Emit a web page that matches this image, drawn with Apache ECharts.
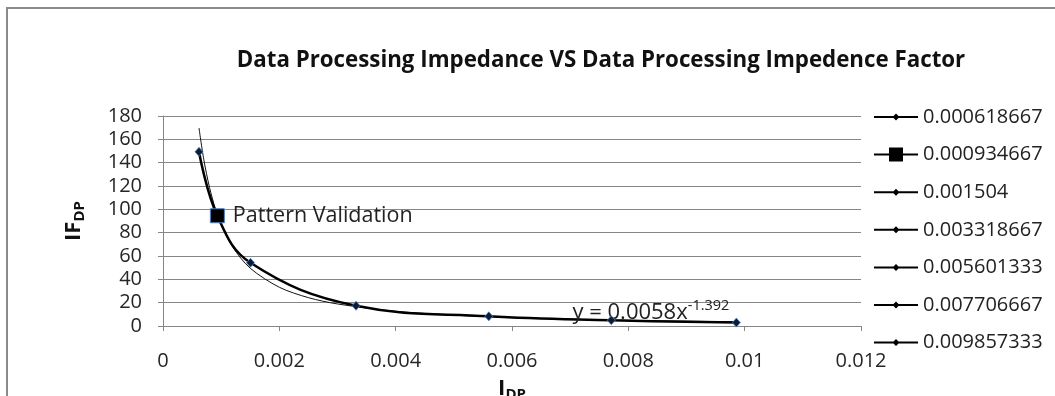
<!DOCTYPE html>
<html>
<head>
<meta charset="utf-8">
<script src="https://cdn.jsdelivr.net/npm/echarts@6/dist/echarts.min.js"></script>
<style>
html,body{margin:0;padding:0;background:#fff;}
#chart{width:1055px;height:396px;}
</style>
</head>
<body>
<div id="chart"></div>
<script>
// ---- data ----
const TITLE = 'Data Processing Impedance VS Data Processing Impedence Factor';
const POINT_LABELS = ['0.000618667','0.000934667','0.001504','0.003318667','0.005601333','0.007706667','0.009857333'];
const IDP = POINT_LABELS.map(Number);
const IFDP = [149.3, 94.5, 54.2, 17.4, 8.3, 4.9, 2.9];
const VALIDATION_INDEX = 1;
const VALIDATION_TEXT = 'Pattern Validation';
// power trendline
const TREND_X = [0.000619, 0.0007, 0.0008, 0.0009, 0.001, 0.0012, 0.0015, 0.002, 0.0025, 0.003, 0.004, 0.005, 0.006, 0.007, 0.008, 0.009, 0.00986];
const TREND_Y = [169.7, 143.0, 118.7, 100.7, 87.0, 67.5, 49.5, 33.2, 24.3, 18.9, 12.6, 9.3, 7.2, 5.8, 4.8, 4.1, 3.6];
const TREND_EQ_MAIN = 'y = 0.0058x';
const TREND_EQ_EXP = '-1.392';
const X_TICKS = ['0','0.002','0.004','0.006','0.008','0.01','0.012'];
const Y_TICKS = ['0','20','40','60','80','100','120','140','160','180'];

// ---- chart ----
const FONT = 'Open Sans';
const DIAMOND_ICON = 'path://M0,6H44V8H0Z M22,3.5L25.5,7L22,10.5L18.5,7Z';
const SQUARE_ICON = 'path://M0,6H44V8H0Z M15,0H29V14H15Z';

const chart = echarts.init(document.getElementById('chart'), null, {renderer: 'canvas'});

const pointSeries = POINT_LABELS.map((name, i) => {
  const isVal = i === VALIDATION_INDEX;
  return {
    name: name,
    type: 'line',
    data: [[IDP[i], IFDP[i]]],
    symbol: isVal ? 'rect' : 'diamond',
    symbolSize: isVal ? 14 : [8, 9],
    itemStyle: isVal
      ? {color: '#000', borderColor: '#4f81bd', borderWidth: 1}
      : {color: '#0f1a36', borderColor: '#4f81bd', borderWidth: 0.8},
    lineStyle: {color: '#000', width: 2},
    z: 5,
    label: isVal ? {
      show: true, position: 'right', distance: 8,
      formatter: VALIDATION_TEXT,
      fontFamily: FONT, fontSize: 21.5, color: '#222'
    } : {show: false},
    animation: false
  };
});

const option = {
  animation: false,
  backgroundColor: '#fff',
  graphic: [{
    type: 'rect', silent: true,
    shape: {x: 7, y: 8, width: 1100, height: 500},
    style: {fill: 'none', stroke: '#8a8a8a', lineWidth: 2}
  }],
  title: {
    text: TITLE,
    left: 596, top: 45, textAlign: 'center',
    textStyle: {fontFamily: 'Open Sans', fontWeight: 'bold', fontSize: 22.3, color: '#111'}
  },
  legend: {
    orient: 'vertical',
    left: 869, top: 101,
    itemWidth: 44, itemHeight: 14, itemGap: 15.6,
    selectedMode: false,
    textStyle: {fontFamily: FONT, fontSize: 20, color: '#222', lineHeight: 22},
    data: POINT_LABELS.map((n, i) => ({
      name: n,
      icon: i === VALIDATION_INDEX ? SQUARE_ICON : DIAMOND_ICON,
      itemStyle: {color: '#000', borderWidth: 0, borderColor: 'transparent'}
    }))
  },
  grid: {left: 163, right: 194, top: 116, bottom: 70, containLabel: false, outerBoundsMode: 'none'},
  xAxis: {
    type: 'value', min: 0, max: 0.012, interval: 0.002,
    name: '{a|I}{b|DP}', nameLocation: 'middle', nameGap: 49,
    nameTextStyle: {
      rich: {
        a: {fontFamily: FONT, fontWeight: 'bold', fontSize: 22, color: '#111'},
        b: {fontFamily: FONT, fontWeight: 'bold', fontSize: 15, color: '#111', verticalAlign: 'top', padding: [12, 0, 0, 0]}
      }
    },
    axisLine: {show: true, onZero: false, lineStyle: {color: '#868686', width: 1}},
    axisTick: {show: true, length: 5, inside: false, lineStyle: {color: '#868686'}},
    axisLabel: {
      margin: 25, fontFamily: FONT, fontSize: 20, color: '#262626',
      formatter: v => X_TICKS[Math.round(v / 0.002)]
    },
    splitLine: {show: false}
  },
  yAxis: {
    type: 'value', min: 0, max: 180, interval: 20,
    name: '{a|IF}{b|DP}', nameLocation: 'middle', nameGap: 76,
    nameTextStyle: {
      rich: {
        a: {fontFamily: FONT, fontWeight: 'bold', fontSize: 22, color: '#111'},
        b: {fontFamily: FONT, fontWeight: 'bold', fontSize: 15, color: '#111', verticalAlign: 'top', padding: [12, 0, 0, 0]}
      }
    },
    axisLine: {show: true, lineStyle: {color: '#868686', width: 1}},
    axisTick: {show: true, length: 5, lineStyle: {color: '#868686'}},
    axisLabel: {
      margin: 21, fontFamily: FONT, fontSize: 20, color: '#262626',
      formatter: v => Y_TICKS[Math.round(v / 20)]
    },
    splitLine: {show: true, lineStyle: {color: '#868686', width: 1}}
  },
  series: [
    {
      name: 'trend', type: 'line',
      data: TREND_X.map((x, i) => [x, TREND_Y[i]]),
      smooth: 0.3,
      symbol: 'none',
      lineStyle: {color: '#111', width: 1},
      z: 3,
      markPoint: {
        silent: true,
        symbol: 'circle', symbolSize: 0,
        data: [{coord: [0.00704, 11.7]}],
        label: {
          show: true, position: 'right', distance: 0,
          formatter: '{a|' + TREND_EQ_MAIN + '}{b|' + TREND_EQ_EXP + '}',
          rich: {
            a: {fontFamily: FONT, fontSize: 22, color: '#222'},
            b: {fontFamily: FONT, fontSize: 14.5, color: '#222', verticalAlign: 'bottom', padding: [0, 0, 13, 0]}
          }
        }
      }
    },
    {
      name: 'curve', type: 'line',
      data: IDP.map((x, i) => [x, IFDP[i]]),
      smooth: 0.4,
      symbol: 'none',
      lineStyle: {color: '#000', width: 2.5},
      z: 4
    }
  ].concat(pointSeries)
};

chart.setOption(option);
</script>
</body>
</html>
